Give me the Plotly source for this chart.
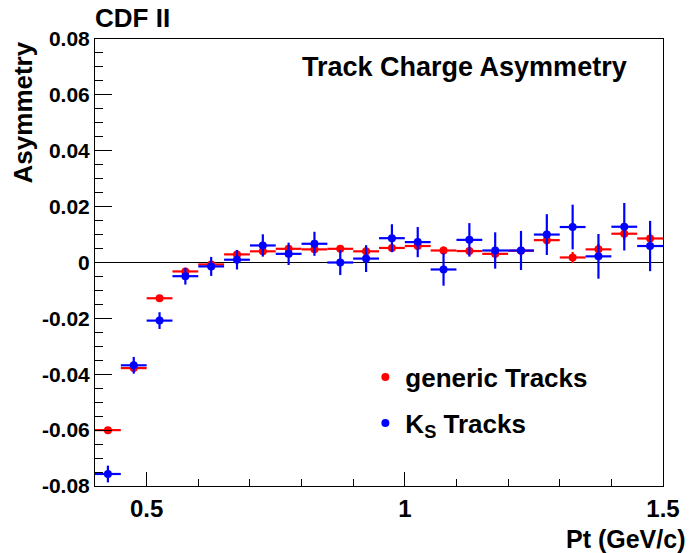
import plotly.graph_objects as go

# Bin centres in Pt (GeV/c), bin width 0.05
pt = [0.425, 0.475, 0.525, 0.575, 0.625, 0.675, 0.725, 0.775, 0.825, 0.875, 0.925,
      0.975, 1.025, 1.075, 1.125, 1.175, 1.225, 1.275, 1.325, 1.375, 1.425, 1.475]
pt_half_width = [0.025] * len(pt)

# Charge asymmetry for generic tracks
generic_asym = [-0.0600, -0.0378, -0.0128, -0.0032, -0.0007, 0.0029, 0.0040, 0.0049,
                0.0047, 0.0049, 0.0040, 0.0052, 0.0059, 0.0043, 0.0041, 0.0031,
                0.0042, 0.0080, 0.0018, 0.0047, 0.0103, 0.0086]
generic_err = [0.0006, 0.0006, 0.0006, 0.0007, 0.0007, 0.0008, 0.0009, 0.0010, 0.0010,
               0.0011, 0.0012, 0.0012, 0.0013, 0.0014, 0.0015, 0.0016, 0.0017, 0.0018,
               0.0020, 0.0020, 0.0021, 0.0022]

# Charge asymmetry for K_S daughter tracks
ks_asym = [-0.0757, -0.0368, -0.0208, -0.0049, -0.0014, 0.0010, 0.0061, 0.0031,
           0.0067, 0.0000, 0.0014, 0.0087, 0.0073, -0.0025, 0.0081, 0.0043,
           0.0043, 0.0100, 0.0127, 0.0022, 0.0128, 0.0059]
ks_err = [0.0030, 0.0030, 0.0030, 0.0030, 0.0034, 0.0035, 0.0040, 0.0040, 0.0043,
          0.0045, 0.0048, 0.0050, 0.0054, 0.0058, 0.0060, 0.0065, 0.0070, 0.0073,
          0.0080, 0.0080, 0.0085, 0.0090]

# Axis ticks
x_tick_vals = [0.5, 1.0, 1.5]
x_tick_text = ["0.5", "1", "1.5"]
y_tick_vals = [0.08, 0.06, 0.04, 0.02, 0.0, -0.02, -0.04, -0.06, -0.08]
y_tick_text = ["0.08", "0.06", "0.04", "0.02", "0", "-0.02", "-0.04", "-0.06", "-0.08"]

FONT = "Liberation Sans, Arial, Helvetica, sans-serif"


def series(name, y, yerr, color, group):
    return go.Scatter(
        x=pt, y=y, name=name, mode="markers", legendgroup=group,
        marker=dict(symbol="circle", size=8, color=color),
        error_x=dict(type="data", array=pt_half_width, color=color, thickness=2.2, width=0),
        error_y=dict(type="data", array=yerr, color=color, thickness=2.2, width=0),
    )


fig = go.Figure()
fig.add_trace(series("generic Tracks", generic_asym, generic_err, "#ff0000", "g1"))
fig.add_trace(series("K<sub>S</sub> Tracks", ks_asym, ks_err, "#0000ff", "g2"))

axis_common = dict(
    showline=True, linecolor="black", linewidth=1, mirror=True,
    showgrid=False, ticks="inside", tickcolor="black", tickwidth=1,
)

fig.update_xaxes(
    range=[0.4, 1.5], tickmode="array", tickvals=x_tick_vals, ticktext=x_tick_text,
    ticklen=14, zeroline=False, ticklabelstandoff=1,
    tickfont=dict(family=FONT, size=24, color="black", weight="bold"),
    minor=dict(tickmode="linear", tick0=0.4, dtick=0.1, ticklen=7, ticks="inside",
               tickcolor="black", showgrid=False),
    **axis_common,
)
fig.update_yaxes(
    range=[-0.08, 0.08], tickmode="array", tickvals=y_tick_vals, ticktext=y_tick_text,
    ticklen=17, zeroline=True, zerolinecolor="black", zerolinewidth=1,
    tickfont=dict(family=FONT, size=21, color="black", weight="bold"),
    minor=dict(tickmode="linear", tick0=0, dtick=0.005, ticklen=8, ticks="inside",
               tickcolor="black", showgrid=False),
    **axis_common,
)

title_font = dict(family=FONT, size=26, color="black", weight="bold")
fig.add_annotation(text="CDF II", xref="paper", yref="paper", x=-0.004, y=1.047,
                   xanchor="left", yanchor="middle", showarrow=False, font=title_font)
fig.add_annotation(text="Track Charge Asymmetry", xref="paper", yref="paper",
                   x=0.3610, y=0.937, xanchor="left", yanchor="middle", showarrow=False,
                   font=dict(family=FONT, size=27, color="black", weight="bold"))
fig.add_annotation(text="Asymmetry", xref="paper", yref="paper", x=-0.126, y=1.0,
                   xanchor="center", yanchor="top", textangle=-90,
                   showarrow=False, font=title_font)
fig.add_annotation(text="Pt (GeV/c)", xref="paper", yref="paper", x=1.042, y=-0.118,
                   xanchor="right", yanchor="middle", showarrow=False,
                   font=dict(family=FONT, size=25, color="black", weight="bold"))

fig.update_layout(
    width=692, height=553,
    margin=dict(l=95, r=26, t=39, b=67),
    paper_bgcolor="white", plot_bgcolor="white",
    showlegend=True,
    legend=dict(x=0.476, y=0.296, xanchor="left", yanchor="top",
                bgcolor="rgba(0,0,0,0)", tracegroupgap=9, traceorder="grouped",
                font=dict(family=FONT, size=26, color="black", weight="bold")),
)

fig.write_html("out.html")
